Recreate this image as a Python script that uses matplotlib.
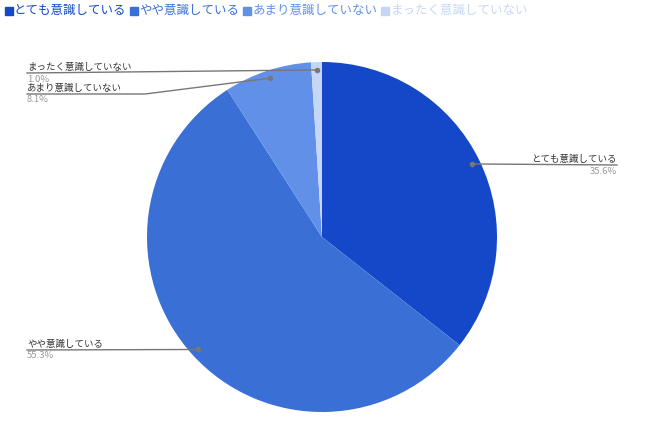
import numpy as np
import matplotlib.pyplot as plt

plt.rcParams['font.family'] = ['Noto Sans CJK JP', 'DejaVu Sans']

labels = ['とても意識している', 'やや意識している', 'あまり意識していない', 'まったく意識していない']
values = [35.6, 55.3, 8.1, 1.0]
colors = ['#1448c8', '#3a6fd5', '#6190e8', '#c6d7f6']

W, H = 650, 421
fig = plt.figure(figsize=(W / 100, H / 100), dpi=100)
ax = fig.add_axes([0, 0, 1, 1])

cx, cy, R = 322, H - 237, 175
wedges, _ = ax.pie(values, colors=colors, startangle=90, counterclock=False,
                   center=(cx, cy), radius=R, frame=True,
                   wedgeprops=dict(linewidth=0))
ax.set_xlim(0, W)
ax.set_ylim(0, H)
ax.axis('off')

# anchor points on each slice
anchors = []
for w in wedges:
    a = np.deg2rad((w.theta1 + w.theta2) / 2)
    anchors.append((cx + 0.955 * R * np.cos(a), cy + 0.955 * R * np.sin(a)))

gray = '#777777'
fs = 6.8

def label(i, x_text, y_line, side, bend=None):
    px, py = anchors[i]
    ha = 'right' if side == 'right' else 'left'
    if bend is None:
        xs, ys = [x_text, px], [y_line, py]
    else:
        xs, ys = [x_text, bend, px], [y_line, y_line, py]
    ax.plot(xs, ys, color=gray, lw=1)
    ax.text(x_text, y_line + 1.5, labels[i], ha=ha, va='bottom', fontsize=fs, color='#333333')
    ax.text(x_text, y_line - 1.5, f'{values[i]:.1f}%', ha=ha, va='top', fontsize=fs, color='#999999')
    ax.plot(px, py, 'o', ms=3, color=gray)

label(0, 617, H - 165, 'right')
label(1, 27, H - 350, 'left')
label(2, 27, H - 94, 'left', bend=145)
label(3, 27, H - 73, 'left')

# legend: small square marker then coloured text
x = 5
for lab, c in zip(labels, colors):
    ax.plot(x + 3.5, H - 11, 's', ms=5.5, color=c)
    t = ax.text(x + 9, H - 10, lab, fontsize=9, color=c, va='center', ha='left')
    fig.canvas.draw()
    x = t.get_window_extent().x1 + 4

fig.savefig('out.png', dpi=100)
